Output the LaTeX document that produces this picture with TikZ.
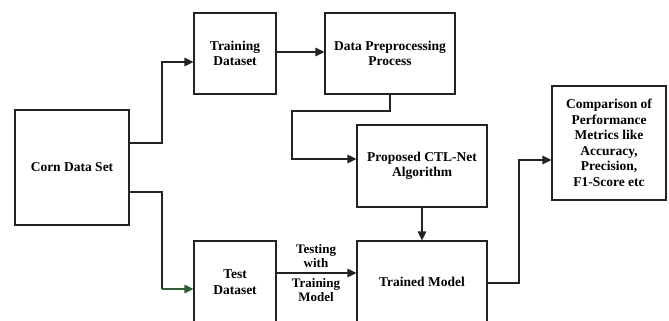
\documentclass[tikz,border=0pt]{standalone}
\usepackage{fontspec}
\setmainfont{Liberation Serif}
\usetikzlibrary{arrows.meta,calc}
\definecolor{lin}{HTML}{222222}
\definecolor{grn}{HTML}{2E5E35}
\tikzset{
  blk/.style={draw=lin, line width=1.2pt, align=center, inner sep=0pt,
    font=\bfseries\fontsize{13.5}{15.5}\selectfont},
  conn/.style={draw=lin, line width=1.2pt},
  arr/.style={conn, -{Triangle[length=9pt,width=8.5pt]}},
  lbl/.style={align=center, inner sep=0pt, font=\bfseries\fontsize{13}{14}\selectfont}
}
\begin{document}
\begin{tikzpicture}[x=1pt,y=-1pt]
\useasboundingbox (0,0) rectangle (669,321);
\node[blk, minimum width=114pt, minimum height=115pt] (corn) at (72,167.5) {Corn Data Set};
\node[blk, minimum width=82pt, minimum height=81pt] (train) at (235,53.5) {Training\\Dataset};
\node[blk, minimum width=130pt, minimum height=81pt] (dpp) at (390,53.5) {Data Preprocessing\\Process};
\node[blk, minimum width=130pt, minimum height=82pt] (ctl) at (422,166) {Proposed CTL-Net\\Algorithm};
\node[blk, minimum width=130pt, minimum height=82pt] (trained) at (422,282) {Trained Model};
\node[blk, minimum width=82pt, minimum height=82pt] (test) at (235,282) {Test\\Dataset};
\node[blk, minimum width=114pt, minimum height=114pt] (comp) at (609,143) {Comparison of\\Performance\\Metrics like\\Accuracy,\\Precision,\\F1-Score etc};

\draw[arr] (corn.east |- 0,143) -- (162,143) |- (train.west |- 0,62);
\draw[arr] (train.east |- 0,52) -- (dpp.west |- 0,52);
\draw[arr] (dpp.south) -- (390,111) -| (292,159) -- (ctl.west |- 0,159);
\draw[arr] (ctl.south) -- (trained.north);
\coordinate (k) at (162,289);
\draw[conn] (corn.east |- 0,192) -| (k);
\draw[arr, draw=grn, fill=grn] (k) -- (test.west |- k);
\draw[arr] (test.east |- 0,273) -- (trained.west |- 0,273);
\node[lbl] (l1) at (316,256.5) {Testing\\with};
\node[lbl] (l2) at (316,290.5) {Training\\Model};
\draw[arr] (trained.east |- 0,283) -| (519,160) -- (comp.west |- 0,160);
\end{tikzpicture}
\end{document}
